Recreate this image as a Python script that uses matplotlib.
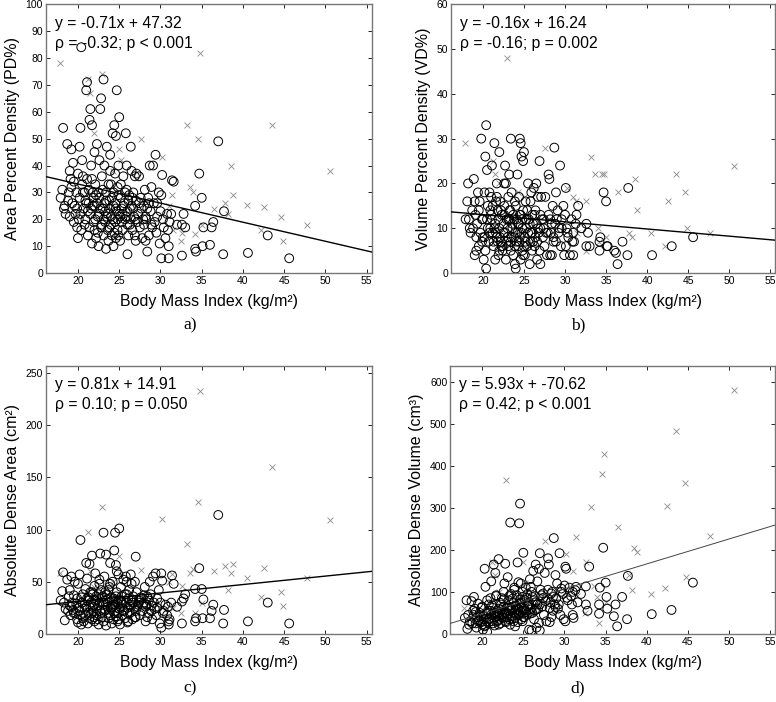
import numpy as np
import matplotlib
matplotlib.use("Agg")
import matplotlib.pyplot as plt

plt.rcParams['font.family'] = ['Liberation Sans', 'DejaVu Sans']

# circles: (bmi, area %PD, volume %VD, dense area cm2, dense volume cm3)
circles = [
    (17.9, 28, 12, 32, 38), (18.1, 31, 16, 41, 80), (18.2, 54, 20, 59, 12), (18.4, 25, 10, 13, 22),
    (18.5, 22, 9, 24, 30), (18.7, 48, 14, 52, 78), (18.9, 30, 21, 36, 55), (19.0, 21, 4, 27, 45),
    (19.1, 35, 13, 18, 60), (19.2, 46, 5, 55, 25), (19.3, 26, 11, 30, 15), (19.4, 41, 18, 23, 40),
    (19.5, 34, 14, 37, 72), (19.6, 25, 16, 50, 33), (19.7, 22, 9, 20, 50), (19.8, 30, 30, 29, 42),
    (19.9, 17, 7, 14, 28), (20.0, 37, 12, 48, 65), (20.1, 20, 3, 25, 10), (20.2, 47, 18, 57, 35),
    (20.3, 54, 26, 90, 155), (20.4, 84, 33, 35, 112), (20.4, 16, 1, 9, 20), (20.5, 42, 23, 30, 48),
    (20.6, 30, 10, 15, 5), (20.7, 24, 7, 12, 55), (20.8, 18, 18, 28, 70), (20.9, 27, 14, 43, 38),
    (21.0, 68, 17, 68, 85), (21.1, 71, 24, 53, 125), (21.1, 35, 12, 34, 45), (21.2, 14, 9, 10, 30),
    (21.3, 26, 6, 20, 62), (21.4, 57, 29, 67, 165), (21.5, 61, 3, 40, 50), (21.5, 22, 11, 25, 20),
    (21.6, 40, 16, 30, 145), (21.7, 55, 20, 75, 90), (21.7, 11, 8, 14, 40), (21.8, 30, 14, 38, 55),
    (21.9, 19, 4, 22, 32), (22.0, 45, 27, 46, 178), (22.0, 25, 10, 12, 60), (22.1, 33, 16, 58, 44),
    (22.2, 13, 7, 18, 25), (22.3, 48, 13, 33, 70), (22.4, 21, 5, 27, 85), (22.5, 10, 9, 9, 38),
    (22.6, 28, 20, 48, 100), (22.7, 61, 24, 77, 120), (22.8, 65, 20, 42, 167), (22.8, 17, 3, 20, 30),
    (22.9, 36, 12, 35, 52), (23.0, 24, 8, 28, 48), (23.1, 72, 17, 97, 135), (23.1, 14, 6, 12, 62),
    (23.2, 40, 22, 55, 80), (23.3, 19, 14, 23, 35), (23.4, 30, 30, 76, 265), (23.4, 9, 5, 8, 22),
    (23.5, 47, 18, 38, 95), (23.6, 22, 10, 30, 58), (23.7, 12, 4, 15, 42), (23.8, 27, 12, 45, 75),
    (23.8, 17, 8, 20, 30), (23.9, 44, 2, 68, 110), (24.0, 33, 15, 25, 55), (24.0, 21, 1, 35, 18),
    (24.1, 14, 7, 10, 66), (24.2, 52, 22, 50, 92), (24.3, 25, 11, 28, 170), (24.3, 10, 6, 14, 28),
    (24.4, 55, 17, 80, 123), (24.5, 37, 30, 97, 263), (24.5, 19, 13, 22, 45), (24.6, 51, 29, 66, 310),
    (24.6, 13, 3, 17, 72), (24.7, 68, 26, 60, 120), (24.7, 23, 9, 40, 52), (24.8, 16, 5, 12, 35),
    (24.9, 29, 25, 33, 88), (24.9, 40, 14, 57, 100), (25.0, 58, 27, 101, 193), (25.1, 21, 8, 26, 60),
    (25.1, 12, 4, 9, 40), (25.2, 33, 16, 45, 80), (25.3, 24, 10, 30, 110), (25.4, 16, 6, 18, 45),
    (25.5, 36, 20, 52, 95), (25.6, 26, 12, 22, 70), (25.7, 20, 2, 15, 10), (25.8, 52, 16, 55, 130),
    (25.9, 31, 9, 38, 58), (26.0, 7, 5, 11, 8), (26.0, 23, 13, 25, 100), (26.1, 14, 7, 12, 50),
    (26.2, 29, 19, 42, 150), (26.3, 18, 6, 20, 35), (26.4, 47, 14, 57, 90), (26.5, 38, 20, 48, 165),
    (26.5, 25, 11, 32, 75), (26.6, 16, 3, 14, 15), (26.7, 30, 17, 36, 125), (26.8, 21, 9, 25, 60),
    (26.9, 36, 25, 50, 155), (27.0, 12, 2, 16, 8), (27.0, 27, 13, 74, 192), (27.1, 37, 17, 40, 105),
    (27.3, 22, 8, 28, 65), (27.4, 36, 10, 32, 85), (27.5, 17, 6, 18, 45), (27.6, 28, 17, 35, 145),
    (27.8, 13, 4, 22, 30), (28.0, 25, 13, 30, 180), (28.0, 18, 22, 37, 105), (28.1, 31, 21, 45, 165),
    (28.2, 12, 4, 12, 28), (28.3, 20, 9, 28, 75), (28.4, 8, 4, 16, 40), (28.5, 28, 15, 34, 100),
    (28.6, 14, 7, 20, 55), (28.7, 40, 28, 50, 228), (28.8, 23, 11, 38, 70), (28.9, 32, 18, 27, 140),
    (29.0, 17, 12, 14, 85), (29.1, 40, 14, 55, 120), (29.2, 26, 9, 30, 60), (29.4, 44, 24, 58, 192),
    (29.5, 15, 6, 18, 45), (29.6, 21, 12, 25, 100), (29.8, 30, 15, 42, 95), (29.9, 11, 4, 10, 35),
    (30.0, 23, 13, 30, 115), (30.1, 5.5, 6, 6, 30), (30.1, 29, 19, 58, 160), (30.2, 36.5, 10, 51, 155),
    (30.4, 17, 8, 22, 80), (30.6, 13, 4, 28, 110), (30.8, 22, 12, 18, 90), (31.0, 5.5, 4, 9, 45),
    (31.0, 10, 9, 12, 100), (31.1, 19, 7, 14, 38), (31.4, 34.5, 13, 56, 112), (31.6, 34, 15, 48, 75),
    (32.0, 18, 10, 26, 95), (32.6, 6.5, 6, 10, 113), (32.6, 18, 11, 31, 70), (32.8, 22, 9, 34, 55),
    (33.0, 17, 6, 38, 160), (34.2, 25, 7, 43, 48), (34.2, 9, 5, 12, 70), (34.3, 8, 8, 15, 110),
    (34.7, 37, 18, 63, 205), (35.0, 28, 16, 43, 122), (35.1, 10, 6, 15, 88), (35.2, 17, 6, 33, 60),
    (36.0, 10.5, 5, 15, 42), (36.2, 17, 4.5, 22, 70), (36.4, 19, 2, 28, 18), (37.0, 49, 7, 114, 88),
    (37.6, 7, 4, 10, 35), (37.7, 23, 19, 23, 138), (40.6, 7.5, 4, 12, 47), (43.0, 14, 6, 30, 57),
    (45.6, 5.5, 8, 10, 122),
    (20.2, 28, 8, 22, 42), (20.5, 33, 12, 30, 30), (20.9, 20, 10, 18, 35), (21.0, 26, 13, 26, 55),
    (21.3, 31, 7, 35, 25), (21.6, 24, 9, 20, 40), (21.9, 28, 12, 28, 48), (22.1, 20, 8, 32, 36),
    (22.3, 26, 6, 24, 58), (22.5, 30, 11, 38, 46), (22.6, 22, 13, 30, 65), (22.9, 18, 7, 16, 28),
    (23.0, 31, 10, 36, 40), (23.2, 26, 12, 22, 55), (23.5, 21, 8, 33, 62), (23.6, 16, 11, 26, 36),
    (23.9, 24, 6, 18, 50), (24.1, 28, 12, 32, 68), (24.2, 20, 9, 26, 44), (24.4, 15, 7, 20, 58),
    (24.6, 24, 13, 36, 82), (24.8, 32, 10, 30, 64), (25.0, 22, 6, 24, 40), (25.3, 19, 12, 36, 52),
    (25.5, 25, 9, 22, 66), (25.8, 21, 7, 30, 48), (26.1, 27, 11, 34, 88), (26.4, 20, 8, 26, 56),
    (26.7, 24, 10, 30, 70), (27.2, 19, 12, 26, 92), (27.7, 24, 9, 34, 78), (28.2, 21, 12, 26, 62),
    (28.6, 26, 8, 32, 88), (29.3, 19, 10, 24, 70), (23.3, 23, 14, 40, 90), (22.0, 16, 5, 16, 22),
    (24.9, 14, 4, 14, 30), (19.5, 19, 6, 20, 30), (20.6, 36, 15, 38, 80), (26.9, 14, 5, 16, 26),
    (18.3, 24, 12, 30, 45), (18.8, 27, 10, 22, 25), (19.2, 32, 8, 26, 52), (19.9, 24, 12, 34, 62),
    (20.3, 22, 5, 18, 18), (20.8, 30, 9, 24, 28), (21.2, 23, 15, 32, 68), (21.4, 17, 10, 15, 48),
    (21.8, 25, 7, 26, 30), (22.2, 29, 14, 36, 74), (22.4, 15, 6, 14, 40), (22.7, 24, 9, 22, 52),
    (23.1, 20, 12, 30, 66), (23.4, 27, 7, 28, 44), (23.7, 33, 13, 42, 84), (24.0, 18, 9, 24, 38),
    (24.3, 30, 11, 34, 60), (24.5, 26, 8, 28, 48), (24.8, 20, 12, 20, 74), (25.2, 28, 7, 32, 56),
    (25.4, 22, 14, 28, 86), (25.7, 30, 11, 38, 72), (26.0, 18, 9, 20, 62), (26.3, 24, 13, 28, 80),
    (26.6, 28, 7, 30, 58), (27.0, 20, 10, 22, 70), (27.4, 26, 12, 30, 96), (27.9, 20, 9, 28, 86),
    (28.4, 24, 11, 36, 96), (28.9, 18, 7, 22, 64), (29.6, 26, 10, 34, 108), (30.3, 20, 9, 20, 86),
    (30.9, 16, 7, 26, 70), (31.3, 22, 11, 30, 104), (19.0, 38, 16, 42, 88), (21.7, 35, 17, 40, 92),
    (23.9, 38, 16, 48, 105), (25.9, 40, 18, 50, 112), (22.6, 42, 15, 52, 82), (20.0, 13, 8, 11, 22),
]

# crosses: same columns, second group
crosses = [
    (17.8, 78, 29, 58, 62), (21.2, 72, 25, 98, 170), (22.9, 74, 48, 122, 367), (27.6, 50, 28, 61, 220),
    (30.2, 43, 19, 110, 190), (33.2, 55, 26, 86, 302), (34.5, 50, 22, 126, 380), (34.8, 82, 22, 233, 427),
    (38.5, 40, 21, 58, 205), (43.5, 55, 22, 160, 482), (50.6, 38, 24, 109, 580), (44.6, 21, 18, 40, 358),
    (44.8, 12, 10, 27, 135), (42.5, 24.5, 16, 63, 305), (36.5, 24, 18, 60, 254), (47.7, 17.8, 9, 54, 233),
    (31.4, 29, 16, 57, 230), (38.8, 29, 14, 67, 195), (37.8, 26, 9, 65, 140), (40.5, 25.5, 9, 54, 96),
    (42.2, 16, 6, 35, 110), (32.6, 15, 16, 46, 172), (32.5, 12, 5, 20, 50), (34.2, 14.5, 7, 20, 25),
    (33.6, 32, 22, 58, 115), (34.0, 30, 10, 62, 88), (31.0, 25, 17, 50, 150), (38.2, 22, 8, 42, 105),
    (25.0, 46, 17, 75, 170), (25.2, 42, 13, 56, 120), (21.5, 67, 22, 60, 140), (22.0, 52, 20, 45, 100),
    (24.3, 38, 18, 50, 90), (35.0, 18, 8, 30, 75), (31.5, 16, 9, 25, 90),
]

ylabels = ["Area Percent Density (PD%)", "Volume Percent Density (VD%)",
           "Absolute Dense Area (cm\u00b2)", "Absolute Dense Volume (cm\u00b3)"]
ylims = [100, 60, 257, 638]
ystep = [10, 10, 50, 100]
slopes = [-0.71, -0.16, 0.81, 5.93]
intercepts = [47.32, 16.24, 14.91, -70.62]
eq_text = ["y = -0.71x + 47.32", "y = -0.16x + 16.24", "y = 0.81x + 14.91", "y = 5.93x + -70.62"]
rho_text = ["\u03c1 = -0.32; p < 0.001", "\u03c1 = -0.16; p = 0.002",
            "\u03c1 = 0.10; p = 0.050", "\u03c1 = 0.42; p < 0.001"]
panel_tags = ["a)", "b)", "c)", "d)"]

circ = np.array(circles)
cros = np.array(crosses)

fig = plt.figure(figsize=(7.76, 7.02), dpi=100)
# axes boxes in figure fractions [left, bottom, width, height]
boxes = [[0.059, 0.611, 0.420, 0.383], [0.581, 0.611, 0.418, 0.383],
         [0.059, 0.097, 0.420, 0.382], [0.580, 0.097, 0.419, 0.382]]
tag_pos = [(0.245, 0.537), (0.745, 0.537), (0.245, 0.02), (0.745, 0.02)]

xmin, xmax = 16.1, 55.6
for i in range(4):
    ax = fig.add_axes(boxes[i])
    ax.scatter(cros[:, 0], cros[:, i + 1], marker='x', s=18, c='#8a8a8a', linewidths=0.6, zorder=2)
    ax.scatter(circ[:, 0], circ[:, i + 1], marker='o', s=40, facecolors='none',
               edgecolors='black', linewidths=0.7, zorder=3)
    xx = np.array([xmin, xmax])
    lc = 'black' if i < 3 else '#444444'
    ax.plot(xx, slopes[i] * xx + intercepts[i], color=lc, lw=1.0 if i < 3 else 0.7, zorder=4)
    ax.set_xlim(xmin, xmax)
    ax.set_ylim(0, ylims[i])
    ax.set_xticks(range(20, 56, 5))
    ax.set_yticks(np.arange(0, ylims[i] + 1, ystep[i]))
    ax.tick_params(direction='in', top=True, right=True, labelsize=7.5, length=3, width=0.6, pad=2)
    for s in ax.spines.values():
        s.set_color('#777777')
        s.set_linewidth(1.0)
    ax.set_xlabel("Body Mass Index (kg/m\u00b2)", fontsize=11.5, labelpad=6)
    ax.set_ylabel(ylabels[i], fontsize=11.5, labelpad=4)
    ax.text(0.028, 0.93, eq_text[i], transform=ax.transAxes, fontsize=11.3, va='center')
    ax.text(0.028, 0.855, rho_text[i], transform=ax.transAxes, fontsize=11.3, va='center')
    fig.text(tag_pos[i][0], tag_pos[i][1], panel_tags[i], fontsize=12.5, ha='center', va='center',
             family=['Liberation Serif', 'DejaVu Serif'])

fig.savefig("out.png", dpi=100)
